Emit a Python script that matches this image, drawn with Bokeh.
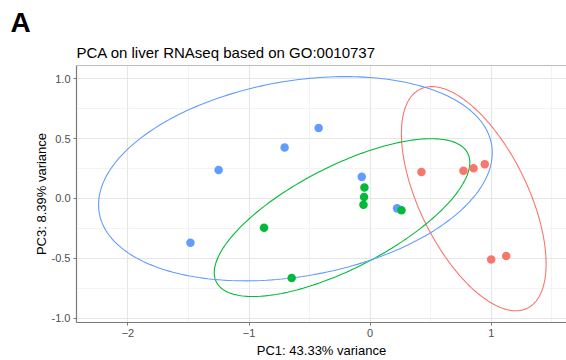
import numpy as np
from bokeh.plotting import figure
from bokeh.models import FixedTicker, Span, Range1d, Title
from bokeh.embed import file_html
from bokeh.resources import INLINE

# ---- data ----
pc1_red = [0.424, 0.771, 0.854, 0.947, 1.000, 1.124]
pc3_red = [0.221, 0.232, 0.252, 0.285, -0.510, -0.480]
pc1_green = [-0.876, -0.648, -0.047, -0.050, -0.055, 0.259]
pc3_green = [-0.245, -0.665, 0.091, 0.011, -0.052, -0.099]
pc1_blue = [-1.484, -1.251, -0.706, -0.425, -0.069, 0.223]
pc3_blue = [-0.371, 0.238, 0.426, 0.588, 0.180, -0.083]

# ellipse parameters: centre x, centre y, semi-axis a, semi-axis b, angle (deg)
ell_red = [0.856, -0.002, 1.016, 0.448, -64.3]
ell_green = [-0.232, -0.160, 1.169, 0.426, 27.5]
ell_blue = [-0.617, 0.1645, 1.645, 0.815, 10.1]

x_ticks = [-2, -1, 0, 1]
x_minor = [-1.5, -0.5, 0.5, 1.5]
y_ticks = [-1.0, -0.5, 0.0, 0.5, 1.0]
y_minor = [-0.75, -0.25, 0.25, 0.75]

panel_letter = "A"
title = "PCA on liver RNAseq based on GO:0010737"
xlab = "PC1: 43.33% variance"
ylab = "PC3: 8.39% variance"

RED, GREEN, BLUE = "#F8766D", "#00BA38", "#619CFF"
FONT = "Liberation Sans"

p = figure(width=566, height=360, output_backend="svg", toolbar_location=None,
           x_range=Range1d(-2.425, 1.622), y_range=Range1d(-1.036, 1.110),
           min_border_left=76, min_border_right=0, min_border_top=65, min_border_bottom=36,
           title=None)

# first title in the list sits nearest the frame
p.add_layout(Title(text=title, text_font=FONT, text_font_size="15px",
                   text_font_style="normal", text_color="black", align="left",
                   offset=0, standoff=9), "above")
p.add_layout(Title(text=panel_letter, text_font=FONT, text_font_size="28px",
                   text_font_style="bold", text_color="black", align="left",
                   offset=-66, standoff=0), "above")

p.background_fill_color = "white"
p.border_fill_color = "white"
p.outline_line_color = None

# grids
p.xaxis.ticker = FixedTicker(ticks=x_ticks, minor_ticks=x_minor)
p.yaxis.ticker = FixedTicker(ticks=y_ticks, minor_ticks=y_minor)
p.yaxis.major_label_overrides = {v: f"{v:.1f}" for v in y_ticks}
for g in (p.xgrid, p.ygrid):
    g.grid_line_color = "#e6e6e6"
    g.grid_line_width = 1.1
    g.minor_grid_line_color = "#eeeeee"
    g.minor_grid_line_width = 0.7

for ax in (p.xaxis, p.yaxis):
    ax.axis_line_color = "#7a7a7a"
    ax.axis_line_width = 1.2
    ax.major_tick_line_color = "#7a7a7a"
    ax.major_tick_in = 0
    ax.major_tick_out = 3
    ax.minor_tick_line_color = None
    ax.major_label_text_font = FONT
    ax.major_label_text_font_size = "11px"
    ax.major_label_text_color = "#4d4d4d"
    ax.major_label_standoff = 2
    ax.axis_label_text_font = FONT
    ax.axis_label_text_font_size = "13px"
    ax.axis_label_text_font_style = "normal"
    ax.axis_label_text_color = "black"
    ax.axis_label_standoff = 3
p.yaxis.axis_label_standoff = 0
p.xaxis.axis_label = xlab
p.yaxis.axis_label = ylab

p.add_layout(Span(location=1.110, dimension="width", line_color="#7a7a7a", line_width=1.2))

# ellipses
t = np.linspace(0, 2 * np.pi, 241)
for params, col in ((ell_red, RED), (ell_green, GREEN), (ell_blue, BLUE)):
    cx, cy, a, b, ang = params
    th = np.deg2rad(ang)
    ex = cx + a * np.cos(th) * np.cos(t) - b * np.sin(th) * np.sin(t)
    ey = cy + a * np.sin(th) * np.cos(t) + b * np.cos(th) * np.sin(t)
    p.line(ex, ey, line_color=col, line_width=1.1)

# points
p.scatter(pc1_blue, pc3_blue, size=8.5, fill_color=BLUE, line_color=None)
p.scatter(pc1_green, pc3_green, size=8.5, fill_color=GREEN, line_color=None)
p.scatter(pc1_red, pc3_red, size=8.5, fill_color=RED, line_color=None)

open("out.html", "w").write(file_html(p, INLINE))
